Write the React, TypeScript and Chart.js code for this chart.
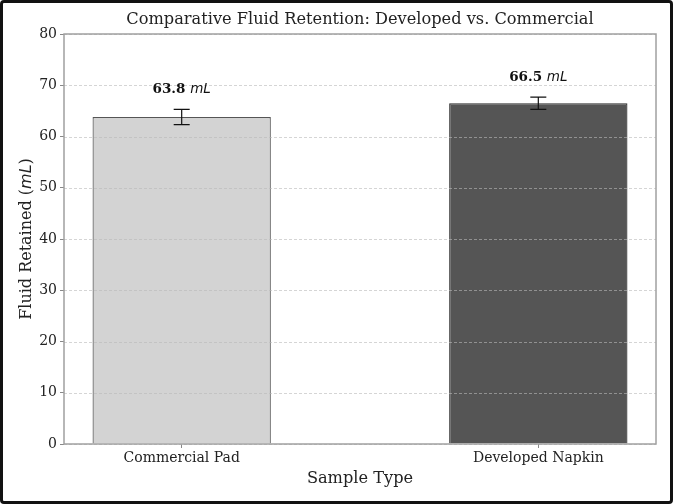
import React, { useEffect, useRef } from "react";
import { Chart, registerables } from "chart.js";

Chart.register(...registerables);

const TITLE = "Comparative Fluid Retention: Developed vs. Commercial";
const X_TITLE = "Sample Type";
const CATEGORIES = ["Commercial Pad", "Developed Napkin"];
const MEANS = [63.8, 66.5];
const ERRORS = [1.5, 1.2];
const Y_TICKS = [0, 10, 20, 30, 40, 50, 60, 70, 80];
const LABEL_TEXT = ["63.8", "66.5"];

const BAR_FILL = ["#d3d3d3", "#555555"];
const BAR_EDGE = ["#555555", "#2a2a2a"];
const SERIF = "'DejaVu Serif', serif";
const SANS = "'DejaVu Sans', sans-serif";
const LABEL_GAP = 3.9;

const overlayPlugin = {
  id: "overlay",
  afterDatasetsDraw(chart: any) {
    const { ctx, chartArea } = chart;
    const xs = chart.scales.x;
    const ys = chart.scales.y;
    ctx.save();
    // dashed grid over bars
    ctx.strokeStyle = "rgba(185,185,185,0.6)";
    ctx.lineWidth = 1;
    ctx.setLineDash([3, 2]);
    Y_TICKS.forEach((t) => {
      const y = Math.round(ys.getPixelForValue(t)) + 0.5;
      ctx.beginPath();
      ctx.moveTo(chartArea.left, y);
      ctx.lineTo(chartArea.right, y);
      ctx.stroke();
    });
    ctx.setLineDash([]);
    // frame
    ctx.strokeStyle = "#a0a0a0";
    ctx.lineWidth = 1.5;
    ctx.strokeRect(chartArea.left, chartArea.top, chartArea.right - chartArea.left, chartArea.bottom - chartArea.top);
    // error bars
    ctx.strokeStyle = "#111";
    ctx.lineWidth = 1.2;
    MEANS.forEach((m, i) => {
      const x = xs.getPixelForValue(i);
      const yt = ys.getPixelForValue(m + ERRORS[i]);
      const yb = ys.getPixelForValue(m - ERRORS[i]);
      ctx.beginPath();
      ctx.moveTo(x, yt);
      ctx.lineTo(x, yb);
      ctx.moveTo(x - 8, yt);
      ctx.lineTo(x + 8, yt);
      ctx.moveTo(x - 8, yb);
      ctx.lineTo(x + 8, yb);
      ctx.stroke();
    });
    // value labels
    ctx.fillStyle = "#111";
    ctx.textBaseline = "middle";
    ctx.textAlign = "left";
    MEANS.forEach((m, i) => {
      const x = xs.getPixelForValue(i);
      const y = ys.getPixelForValue(m + ERRORS[i] + LABEL_GAP);
      const boldFont = `bold 13.5px ${SERIF}`;
      const itFont = `italic 13.5px ${SANS}`;
      ctx.font = boldFont;
      const a = LABEL_TEXT[i] + " ";
      const wa = ctx.measureText(a).width;
      ctx.font = itFont;
      const wb = ctx.measureText("mL").width;
      const start = x - (wa + wb) / 2;
      ctx.font = boldFont;
      ctx.fillText(a, start, y);
      ctx.font = itFont;
      ctx.fillText("mL", start + wa, y);
    });
    // chart title centred on plot area
    ctx.fillStyle = "#222";
    ctx.textAlign = "center";
    ctx.textBaseline = "middle";
    ctx.font = `16.2px ${SERIF}`;
    ctx.fillText(TITLE, (chartArea.left + chartArea.right) / 2, 17);
    // y title
    ctx.save();
    ctx.textAlign = "left";
    ctx.textBaseline = "middle";
    ctx.translate(23.5, (chartArea.top + chartArea.bottom) / 2);
    ctx.rotate(-Math.PI / 2);
    ctx.fillStyle = "#222";
    const f1 = `16px ${SERIF}`;
    const f2 = `italic 16px ${SANS}`;
    const p1 = "Fluid Retained (";
    const p3 = ")";
    ctx.font = f1;
    const w1 = ctx.measureText(p1).width;
    const w3 = ctx.measureText(p3).width;
    ctx.font = f2;
    const w2 = ctx.measureText("mL").width;
    let sx = -(w1 + w2 + w3) / 2;
    ctx.font = f1;
    ctx.fillText(p1, sx, 0);
    sx += w1;
    ctx.font = f2;
    ctx.fillText("mL", sx, 0);
    sx += w2;
    ctx.font = f1;
    ctx.fillText(p3, sx, 0);
    ctx.restore();
    ctx.restore();
  },
};

export default function App() {
  const ref = useRef<HTMLCanvasElement | null>(null);
  useEffect(() => {
    if (!ref.current) return;
    Chart.defaults.font.family = SERIF;
    const chart = new Chart(ref.current, {
      type: "bar",
      data: {
        datasets: [
          {
            data: MEANS.map((y, i) => ({ x: i, y })) as any,
            backgroundColor: BAR_FILL,
            borderColor: BAR_EDGE,
            borderWidth: 1.2,
            barPercentage: 0.5,
            categoryPercentage: 1.0,
          },
        ],
      },
      options: {
        animation: false,
        responsive: true,
        maintainAspectRatio: false,
        layout: { padding: { left: 0, right: 14, top: 31, bottom: 0 } },
        plugins: {
          legend: { display: false },
          tooltip: { enabled: false },
          title: { display: false },
        },
        scales: {
          x: {
            type: "linear",
            min: -0.33,
            max: 1.33,
            offset: false,
            afterBuildTicks: (scale: any) => {
              scale.ticks = CATEGORIES.map((_, i) => ({ value: i }));
            },
            afterFit: (scale: any) => {
              scale.height = 57;
            },
            ticks: {
              autoSkip: false,
              maxRotation: 0,
              padding: 2,
              color: "#222",
              font: { size: 14, family: SERIF },
              callback: (v: any) => CATEGORIES[v] ?? "",
            },
            grid: { display: true, drawOnChartArea: false, drawTicks: true, tickLength: 4, color: "#888", offset: false },
            border: { display: false },
            title: {
              display: true,
              text: X_TITLE,
              color: "#222",
              font: { size: 16.2, family: SERIF },
              padding: { top: 4, bottom: 12 },
            },
          },
          y: {
            min: 0,
            max: 80,
            afterBuildTicks: (scale: any) => {
              scale.ticks = Y_TICKS.map((v) => ({ value: v }));
            },
            afterFit: (scale: any) => {
              scale.width = 61;
            },
            ticks: {
              padding: 3,
              color: "#222",
              font: { size: 14, family: SERIF },
            },
            grid: { display: true, drawOnChartArea: false, drawTicks: true, tickLength: 4, color: "#888" },
            border: { display: false },
          },
        },
      },
      plugins: [overlayPlugin],
    });
    return () => chart.destroy();
  }, []);
  return (
    <div
      style={{
        position: "fixed",
        left: 0,
        top: 0,
        width: 673,
        height: 504,
        boxSizing: "border-box",
        border: "3px solid #111",
        borderRadius: 4,
        background: "#fff",
      }}
    >
      <canvas ref={ref} />
    </div>
  );
}
